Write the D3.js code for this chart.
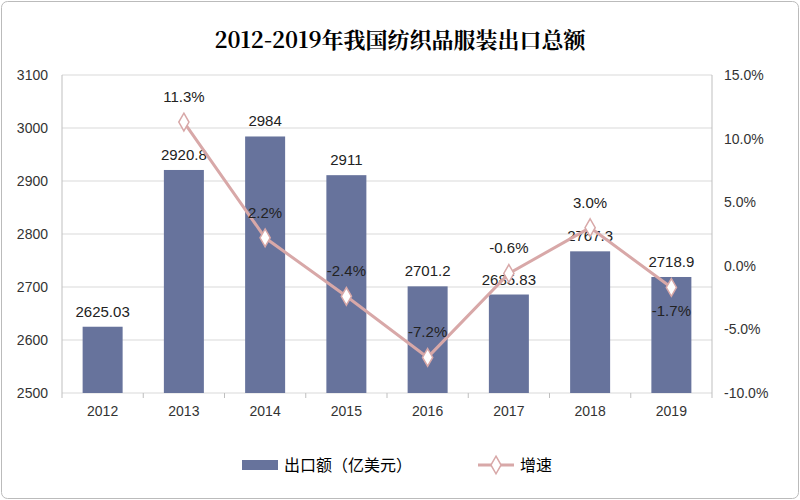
<!DOCTYPE html>
<html><head><meta charset="utf-8">
<script src="https://cdn.jsdelivr.net/npm/d3@7"></script>
<style>body{margin:0;background:#fff}text{font-family:"Liberation Sans",Arial,sans-serif}</style>
</head><body><svg id="c" width="800" height="500"></svg>
<script>
const years=["2012","2013","2014","2015","2016","2017","2018","2019"];
const exportVals=[2625.03,2920.8,2984,2911,2701.2,2685.83,2767.3,2718.9];
const growth=[null,11.3,2.2,-2.4,-7.2,-0.6,3.0,-1.7];
const leftTicks=[2500,2600,2700,2800,2900,3000,3100];
const rightTicks=[-10,-5,0,5,10,15];

const svg=d3.select("#c");
svg.append("rect").attr("x",1.5).attr("y",1.5).attr("width",797).attr("height",497).attr("rx",6).attr("fill","#fff").attr("stroke","#bbb");
svg.append("text").attr("x",400).attr("y",48).attr("text-anchor","middle").attr("font-size",22).attr("font-weight","bold")
 .style("font-family","'Noto Serif CJK SC','Noto Sans CJK SC',serif").text("2012-2019年我国纺织品服装出口总额");
const L=62,R=712,T=75,B=393;
const x=d3.scaleBand().domain(years).range([L,R]);
const y=d3.scaleLinear().domain([2500,3100]).range([B,T]);
const y2=d3.scaleLinear().domain([-10,15]).range([B,T]);
svg.append("g").selectAll("line").data(leftTicks).join("line").attr("x1",L).attr("x2",R).attr("y1",d=>y(d)).attr("y2",d=>y(d)).attr("stroke","#d9d9d9");
svg.append("line").attr("x1",L).attr("x2",L).attr("y1",T).attr("y2",B).attr("stroke","#bfbfbf");
svg.append("line").attr("x1",R).attr("x2",R).attr("y1",T).attr("y2",B).attr("stroke","#bfbfbf");
svg.append("g").selectAll("text").data(leftTicks).join("text").attr("x",L-14).attr("y",d=>y(d)+5).attr("text-anchor","end").attr("font-size",14).attr("fill","#333").text(d=>d);
svg.append("g").selectAll("text").data(rightTicks).join("text").attr("x",R+12).attr("y",d=>y2(d)+5).attr("font-size",14).attr("fill","#333").text(d=>d.toFixed(1)+"%");
svg.append("g").selectAll("text").data(years).join("text").attr("x",d=>x(d)+x.bandwidth()/2).attr("y",B+23).attr("text-anchor","middle").attr("font-size",14).attr("fill","#333").text(d=>d);
svg.append("g").selectAll("line").data(d3.range(9)).join("line").attr("x1",i=>L+i*x.step()).attr("x2",i=>L+i*x.step()).attr("y1",B).attr("y2",B+5).attr("stroke","#bfbfbf");
const bw=40;
svg.append("g").selectAll("rect").data(years).join("rect").attr("x",d=>x(d)+x.bandwidth()/2-bw/2).attr("width",bw)
 .attr("y",(d,i)=>y(exportVals[i])).attr("height",(d,i)=>B-y(exportVals[i])).attr("fill","#67739c");
svg.append("g").selectAll("text").data(years).join("text").attr("x",d=>x(d)+x.bandwidth()/2).attr("y",(d,i)=>y(exportVals[i])-10)
 .attr("text-anchor","middle").attr("font-size",15).attr("fill","#222").text((d,i)=>exportVals[i]);
const pts=years.map((d,i)=>({d,g:growth[i]})).filter(p=>p.g!==null);
svg.append("path").datum(pts).attr("fill","none").attr("stroke","#d8a8a8").attr("stroke-width",3)
 .attr("d",d3.line().x(p=>x(p.d)+x.bandwidth()/2).y(p=>y2(p.g)));
svg.append("g").selectAll("path").data(pts).join("path").attr("d",d3.symbol(d3.symbolDiamond,90))
 .attr("transform",p=>`translate(${x(p.d)+x.bandwidth()/2},${y2(p.g)})`).attr("fill","#fff").attr("stroke","#d8a8a8").attr("stroke-width",1.5);
svg.append("g").selectAll("text").data(pts).join("text").attr("x",p=>x(p.d)+x.bandwidth()/2).attr("y",(p,i)=>y2(p.g)+(i===pts.length-1?29:-20))
 .attr("text-anchor","middle").attr("font-size",15).attr("fill","#222").text(p=>p.g.toFixed(1)+"%");
svg.append("rect").attr("x",242).attr("y",460).attr("width",36).attr("height",10).attr("fill","#67739c");
svg.append("text").attr("x",284).attr("y",471).attr("font-size",16).style("font-family","'Noto Sans CJK SC'").text("出口额（亿美元）");
svg.append("line").attr("x1",478).attr("x2",514).attr("y1",465).attr("y2",465).attr("stroke","#d8a8a8").attr("stroke-width",3);
svg.append("path").attr("d",d3.symbol(d3.symbolDiamond,90)).attr("transform","translate(496,465)").attr("fill","#fff").attr("stroke","#d8a8a8").attr("stroke-width",1.5);
svg.append("text").attr("x",520).attr("y",471).attr("font-size",16).style("font-family","'Noto Sans CJK SC'").text("增速");
</script></body></html>
